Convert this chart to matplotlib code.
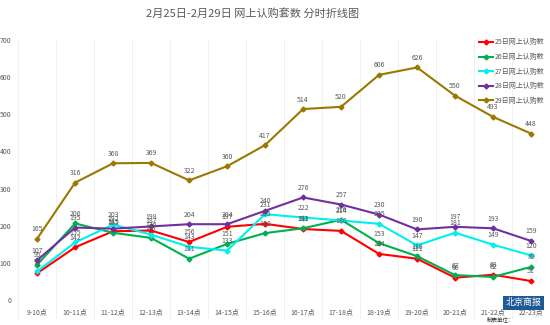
import matplotlib.pyplot as plt
import numpy as np

plt.rcParams['font.family'] = ['Noto Sans CJK SC', 'DejaVu Sans']

# 时段
hours = ['9-10点', '10-11点', '11-12点', '12-13点', '13-14点', '14-15点', '15-16点',
         '16-17点', '17-18点', '18-19点', '19-20点', '20-21点', '21-22点', '22-23点']

d25 = [72, 142, 185, 187, 156, 197, 205, 191, 186, 124, 111, 60, 68, 51]
d26 = [95, 206, 181, 167, 111, 151, 180, 193, 216, 153, 118, 67, 62, 89]
d27 = [77, 155, 203, 176, 143, 133, 231, 222, 214, 205, 147, 181, 149, 120]
d28 = [107, 195, 192, 198, 204, 204, 240, 276, 257, 230, 190, 197, 193, 159]
d29 = [165, 316, 368, 369, 322, 360, 417, 514, 520, 606, 626, 550, 493, 448]

names = ['25日网上认购数', '26日网上认购数', '27日网上认购数', '28日网上认购数', '29日网上认购数']
colors = ['#ff0000', '#00b050', '#00f0f0', '#7030a0', '#9c7800']

fig = plt.figure(figsize=(5.5, 3.25), dpi=100)
ax = fig.add_axes([0.033, 0.077, 0.967, 0.8])

x = np.arange(len(hours))
for vals, name, c in zip([d25, d26, d27, d28, d29], names, colors):
    ax.plot(x, vals, color=c, lw=1.5, marker='D', ms=2.5, label=name)
    for xi, v in zip(x, vals):
        ax.annotate(str(v), (xi, v), xytext=(0, 4), textcoords='offset points',
                    ha='center', va='bottom', fontsize=5, color='#595959')

ax.set_xlim(-0.5, len(hours) - 0.5)
ax.set_ylim(0, 700)
ax.set_yticks(range(0, 701, 100))
ax.set_xticks(x)
ax.set_xticklabels(hours, fontsize=5, color='#595959')
ax.tick_params(axis='y', labelsize=5, labelcolor='#595959', length=0, pad=5)
ax.tick_params(axis='x', length=0, pad=6)
ax.set_xticks(np.arange(-0.5, len(hours), 1), minor=True)
ax.tick_params(axis='x', which='minor', length=14, color='#eeeeee', width=0.6)
ax.grid(axis='x', which='minor', color='#eeeeee', lw=0.6)
for s in ax.spines.values():
    s.set_visible(False)

ax.legend(loc='upper left', bbox_to_anchor=(0.855, 1.03), fontsize=5, frameon=False,
          handlelength=2.0, handletextpad=0.3, labelspacing=0.95, labelcolor='#595959')

fig.text(0.46, 0.958, '2月25日-2月29日 网上认购套数 分时折线图', ha='center', va='center',
         fontsize=8, color='#595959')

# 北京商报 标识
fig.text(0.952, 0.068, '北京商报', ha='center', va='center', fontsize=6.5, color='white',
         bbox=dict(boxstyle='square,pad=0.3', fc='#1f5a96', ec='none'), zorder=10)
fig.text(0.935, 0.018, '制表单位：', ha='right', va='center', fontsize=4, color='#333333')

plt.savefig('out.png', dpi=100)
